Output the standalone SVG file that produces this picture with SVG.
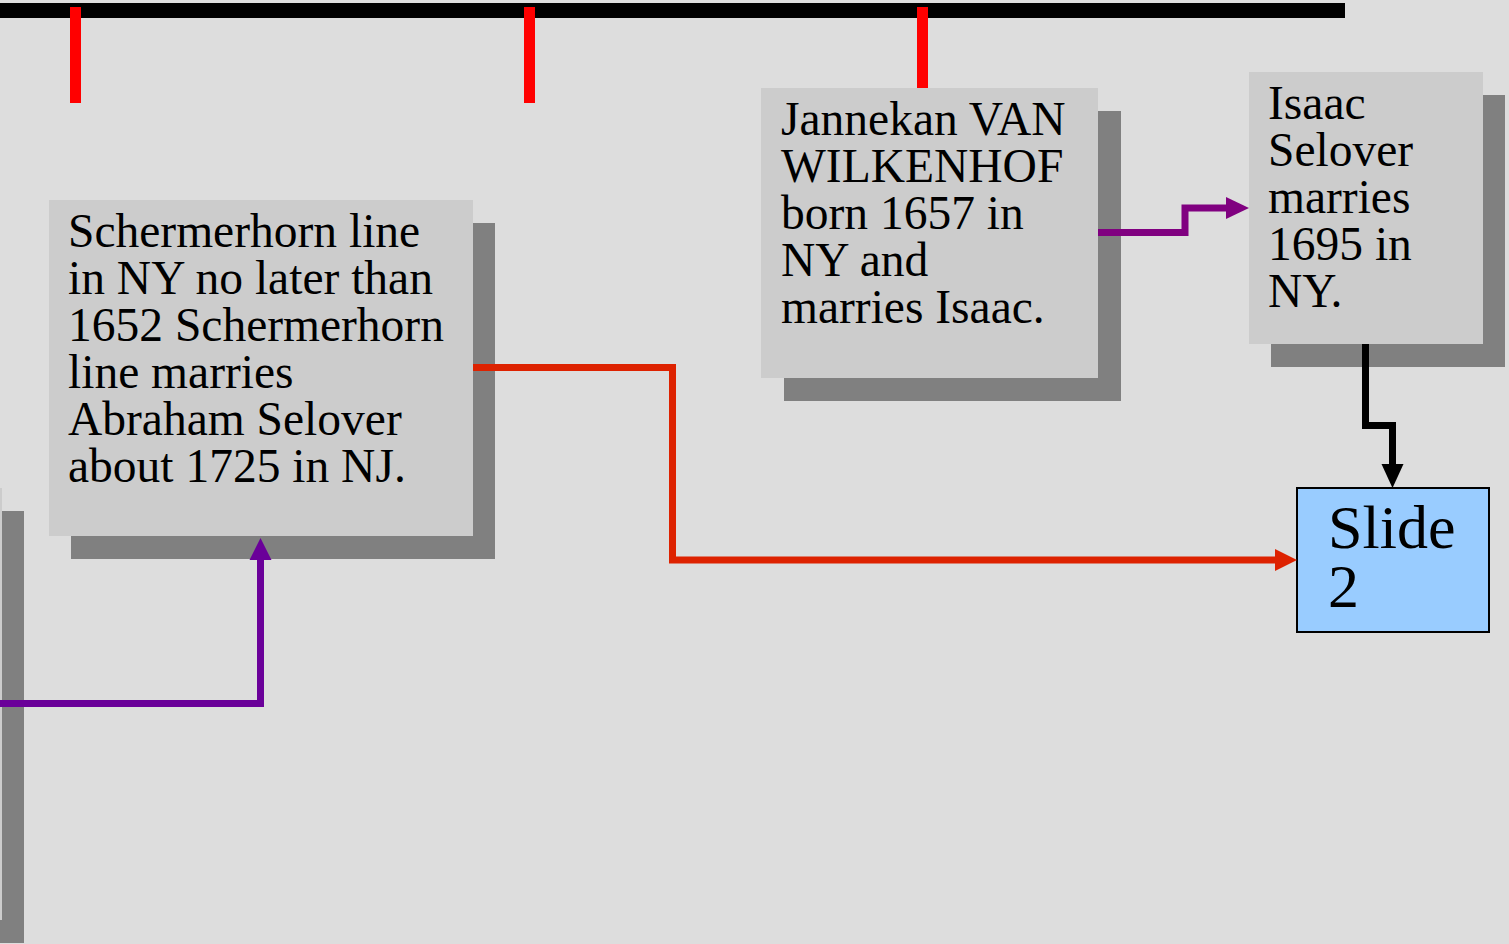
<svg xmlns="http://www.w3.org/2000/svg" width="1509" height="944" viewBox="0 0 1509 944">
<defs>
<style>
.box{fill:#cccccc}
.shadow{fill:#808080}
.t{font-family:"Liberation Serif","Times New Roman",serif;font-size:47.5px;fill:#000}
.tick{fill:#ff0000}
.c{fill:none;stroke-width:7;stroke-linejoin:miter}
</style>
</defs>
<rect x="0" y="0" width="1509" height="944" fill="#dddddd"/>
<g id="timeline">
<rect x="0" y="3" width="1345" height="15" fill="#000"/>
<rect class="tick" x="70" y="7" width="11" height="96"/>
<rect class="tick" x="524" y="7" width="11" height="96"/>
<rect class="tick" x="917" y="7" width="11" height="88"/>
</g>
<g id="node-left-edge">
<rect class="shadow" x="0" y="511" width="24" height="432"/>
<rect class="box" x="0" y="488" width="2" height="432"/>
</g>
<g id="node-schermerhorn">
<rect class="shadow" x="71" y="223" width="424" height="336"/>
<rect class="box" x="49" y="200" width="424" height="336"/>
<text class="t"><tspan x="68" y="247">Schermerhorn line</tspan><tspan x="68" y="294">in NY no later than</tspan><tspan x="68" y="341">1652 Schermerhorn</tspan><tspan x="68" y="388">line marries</tspan><tspan x="68" y="435">Abraham Selover</tspan><tspan x="68" y="482">about 1725 in NJ.</tspan></text>
</g>
<g id="node-jannekan">
<rect class="shadow" x="784" y="111" width="337" height="290"/>
<rect class="box" x="761" y="88" width="337" height="290"/>
<text class="t"><tspan x="781" y="135">Jannekan VAN</tspan><tspan x="781" y="182">WILKENHOF</tspan><tspan x="781" y="229">born 1657 in</tspan><tspan x="781" y="276">NY and</tspan><tspan x="781" y="323">marries Isaac.</tspan></text>
</g>
<g id="node-isaac">
<rect class="shadow" x="1271" y="95" width="234" height="272"/>
<rect class="box" x="1249" y="72" width="234" height="272"/>
<text class="t"><tspan x="1268" y="119">Isaac</tspan><tspan x="1268" y="166">Selover</tspan><tspan x="1268" y="213">marries</tspan><tspan x="1268" y="260">1695 in</tspan><tspan x="1268" y="307">NY.</tspan></text>
</g>
<g id="node-slide2">
<rect x="1297" y="488" width="192" height="144" fill="#99ccff" stroke="#000" stroke-width="2"/>
<text class="t" style="font-size:62px"><tspan x="1328" y="548">Slide</tspan><tspan x="1328" y="607">2</tspan></text>
</g>
<g id="connectors">
<path class="c" d="M0,703.5 H260.5 V558" stroke="#6a0099"/>
<path d="M249.5,560 L260.5,538 L271.5,560 z" fill="#6a0099"/>
<path class="c" d="M473,367.5 H672.5 V560 H1277" stroke="#dd2200"/>
<path d="M1275,549 L1297,560 L1275,571 z" fill="#dd2200"/>
<path class="c" d="M1098,232.5 H1185 V208 H1228" stroke="#800080"/>
<path d="M1226,197 L1249,208 L1226,219 z" fill="#800080"/>
<path class="c" d="M1365.5,344 V425.5 H1392.5 V466" stroke="#000"/>
<path d="M1381.5,464 L1392.5,488 L1403.5,464 z" fill="#000"/>
</g>
</svg>
